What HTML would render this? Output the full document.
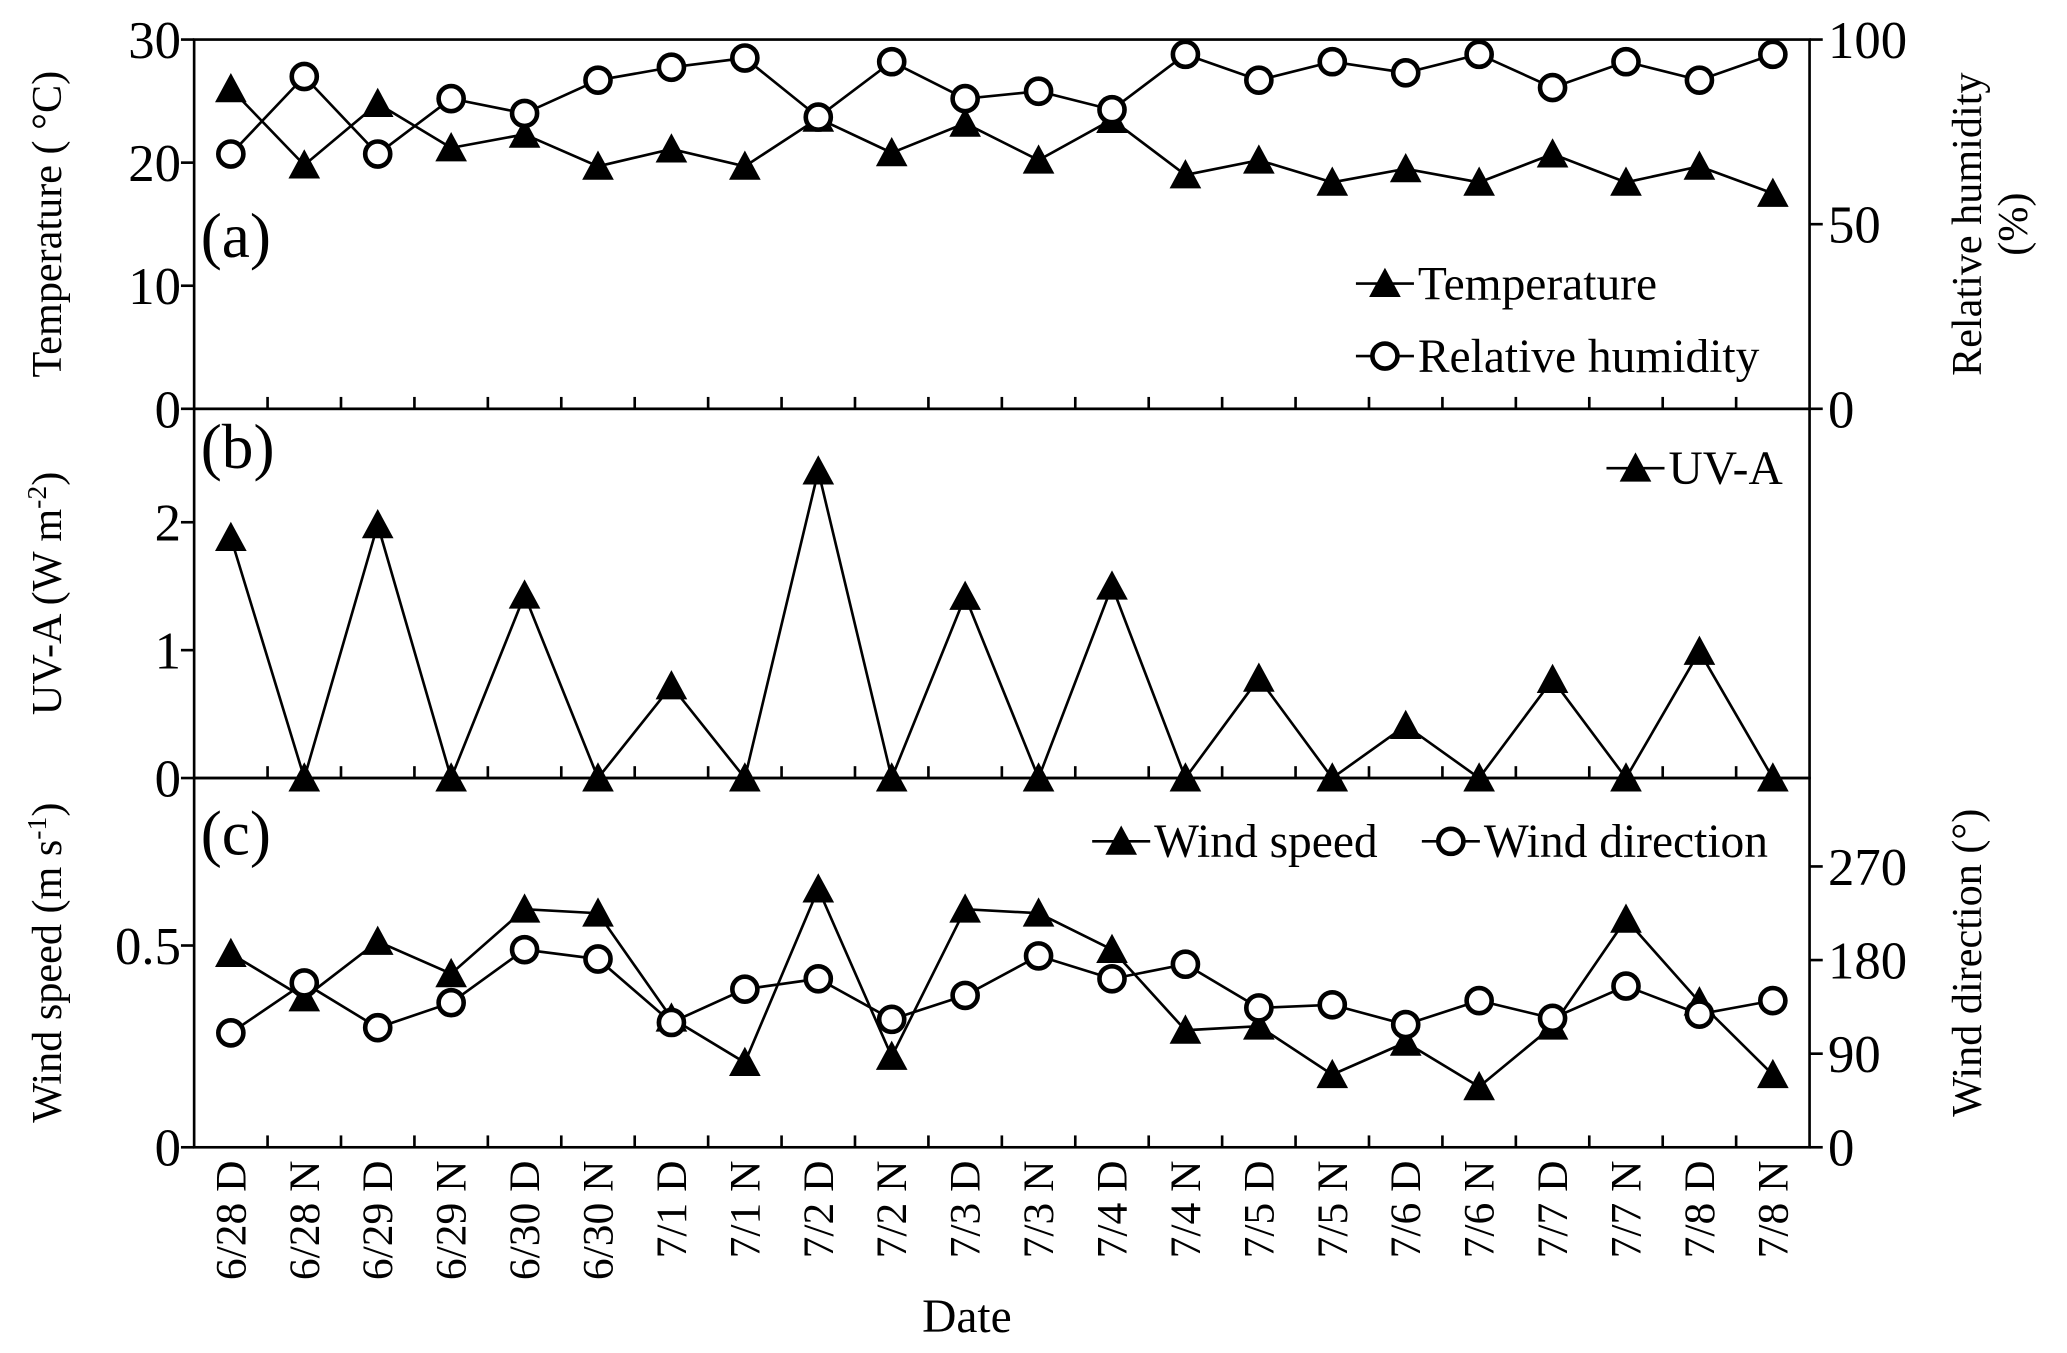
<!DOCTYPE html>
<html><head><meta charset="utf-8"><style>
html,body{margin:0;padding:0;background:#fff;}
svg{display:block;}
svg text{font-family:"Liberation Serif","DejaVu Serif",serif;}
</style></head><body>
<svg id="chart" width="2067" height="1353" viewBox="0 0 1567 1026" xmlns="http://www.w3.org/2000/svg" font-family="Liberation Serif, serif"></svg>
<script>
const categories=["6/28 D","6/28 N","6/29 D","6/29 N","6/30 D","6/30 N","7/1 D","7/1 N","7/2 D","7/2 N","7/3 D","7/3 N","7/4 D","7/4 N","7/5 D","7/5 N","7/6 D","7/6 N","7/7 D","7/7 N","7/8 D","7/8 N"];
const temperature=[26.0,19.8,24.8,21.2,22.3,19.7,21.1,19.7,23.6,20.8,23.2,20.2,23.5,19.0,20.2,18.4,19.5,18.4,20.7,18.4,19.7,17.5];
const humidity=[69,90,69,84,80,89,92.5,95,79,94,84,86,81,96,89,94,91,96,87,94,89,96];
const uva=[1.88,0,1.98,0,1.43,0,0.72,0,2.4,0,1.42,0,1.5,0,0.78,0,0.41,0,0.77,0,0.99,0];
const windSpeed=[0.48,0.37,0.51,0.43,0.59,0.58,0.32,0.21,0.64,0.225,0.59,0.58,0.49,0.29,0.30,0.18,0.26,0.15,0.30,0.565,0.36,0.18];
const windDir=[110,158,115,139,190,181,120,152,162,123,146,184,162,176,134,137,118,141,124,155,128,141];
const tempTicks=[0,10,20,30];
const rhTicks=[0,50,100];
const uvaTicks=[0,1,2];
const wsTicks=[0,0.5];
const wdTicks=[0,90,180,270];

const svg=document.getElementById('chart');
const NS='http://www.w3.org/2000/svg';
function el(tag,attrs,parent){const e=document.createElementNS(NS,tag);for(const k in attrs)e.setAttribute(k,attrs[k]);if(tag==='text')e.setAttribute('font-family','Liberation Serif, serif');(parent||svg).appendChild(e);return e;}
const L=147,R=1372;
const step=(R-L)/categories.length;
const xAt=i=>L+step*(i+0.5);
function yScale(top,bot,min,max){return v=>bot-(v-min)/(max-min)*(bot-top);}
const yT=yScale(30,310,0,30), yRH=yScale(30,310,0,100);
const yU=yScale(310,590,0,2.887);
const yWS=yScale(590,870,0,0.915), yWD=yScale(590,870,0,355);

function frame(top,bot,name){
  const r=el('rect',{x:L,y:top,width:R-L,height:bot-top,fill:'none',stroke:'#000','stroke-width':2});
  
  for(let i=1;i<categories.length;i++){const x=L+step*i;
    const t=el('line',{x1:x,x2:x,y1:bot,y2:bot-9,stroke:'#000','stroke-width':2});
    }
}
function leftTicks(ticks,sc){ticks.forEach(v=>{const y=sc(v);
  const t=el('line',{x1:L-10,x2:L,y1:y,y2:y,stroke:'#000','stroke-width':2});
  const tx=el('text',{x:L-10,y:y+14,'text-anchor':'end','font-size':40});tx.textContent=v;});}
function rightTicks(ticks,sc){ticks.forEach(v=>{const y=sc(v);
  const t=el('line',{x1:R,x2:R+10,y1:y,y2:y,stroke:'#000','stroke-width':2});
  const tx=el('text',{x:R+14,y:y+14,'text-anchor':'start','font-size':40});tx.textContent=v;});}
function vtext(x,y,str,size,name){const t=el('text',{x:x,y:y,transform:`rotate(-90 ${x} ${y})`,'text-anchor':'middle','font-size':size});t.innerHTML=str;return t;}
function tri(x,y,name){const s=12;const p=el('polygon',{points:`${x},${y-s} ${x-s},${y+s*0.85} ${x+s},${y+s*0.85}`,fill:'#000'});}
function circ(x,y,name){const c=el('circle',{cx:x,cy:y,r:9.5,fill:'#fff',stroke:'#000','stroke-width':3.5});}
function series(vals,sc,marker,name){
  const pts=vals.map((v,i)=>xAt(i)+','+sc(v)).join(' ');
  const pl=el('polyline',{points:pts,fill:'none',stroke:'#000','stroke-width':2});
  vals.forEach((v,i)=>marker(xAt(i),sc(v),name+'-point'));
}
function legend(x,y,marker,label,name){
  const l=el('line',{x1:x-22,x2:x+22,y1:y,y2:y,stroke:'#000','stroke-width':2});
  marker(x,y,name+'-marker');
  const t=el('text',{x:x+25,y:y+12,'font-size':36});t.textContent=label;
}
function plabel(x,y,s,name){const t=el('text',{x:x,y:y,'font-size':48});t.textContent=s;}

// Panel a
frame(30,310,'panel-a');
leftTicks(tempTicks,yT);rightTicks(rhTicks,yRH);
series(temperature,yT,tri,'temperature');
series(humidity,yRH,circ,'humidity');
plabel(152,195,'(a)','panel-a-label');
legend(1050,215,tri,'Temperature','legend-temperature');
legend(1050,270,circ,'Relative humidity','legend-humidity');
vtext(46,170,'Temperature ( °C)',32,'y-axis-title-temperature');
vtext(1502,170,'Relative humidity',32,'y2-axis-title-humidity');
vtext(1537,170,'(%)',32,'y2-axis-title-humidity-unit');

// Panel b
frame(310,590,'panel-b');
leftTicks(uvaTicks,yU);
series(uva,yU,tri,'uva');
plabel(152,355,'(b)','panel-b-label');
legend(1240,355,tri,'UV-A','legend-uva');
vtext(46,450,'UV-A (W m<tspan baseline-shift="super" font-size="21">-2</tspan>)',32,'y-axis-title-uva');

// Panel c
frame(590,870,'panel-c');
leftTicks(wsTicks,yWS);rightTicks(wdTicks,yWD);
series(windSpeed,yWS,tri,'wind-speed');
series(windDir,yWD,circ,'wind-direction');
plabel(152,648,'(c)','panel-c-label');
legend(850,638,tri,'Wind speed','legend-wind-speed');
legend(1100,638,circ,'Wind direction','legend-wind-direction');
vtext(46,730,'Wind speed (m s<tspan baseline-shift="super" font-size="21">-1</tspan>)',32,'y-axis-title-wind-speed');
vtext(1502,730,'Wind direction (°)',32,'y2-axis-title-wind-direction');

// x labels
categories.forEach((c,i)=>{const x=xAt(i)+11,y=880;
  const t=el('text',{x:x,y:y,transform:`rotate(-90 ${x} ${y})`,'text-anchor':'end','font-size':33});t.textContent=c;
  });
const dt=el('text',{x:733,y:1010,'text-anchor':'middle','font-size':36});dt.textContent='Date';

</script>
</body></html>
